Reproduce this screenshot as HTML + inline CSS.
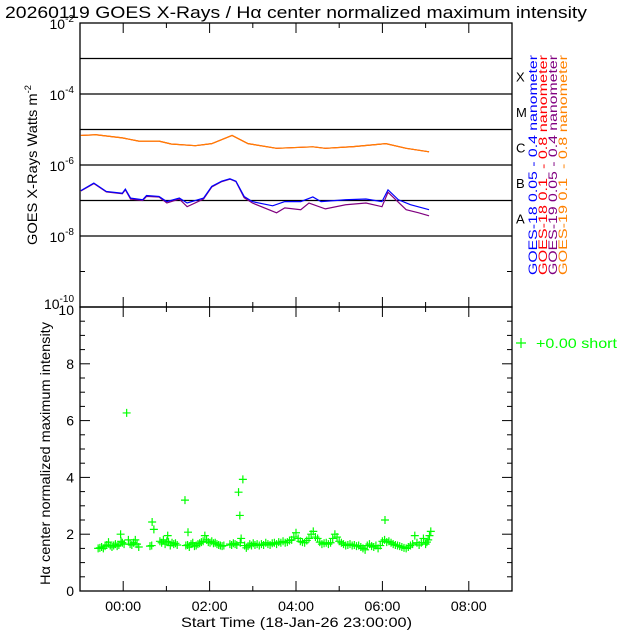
<!DOCTYPE html>
<html><head><meta charset="utf-8"><style>
html,body{margin:0;padding:0;background:#fff;}
svg{display:block;font-family:"Liberation Sans",sans-serif;}
</style></head><body>
<svg id="chart" width="640" height="640" viewBox="0 0 640 640" xmlns="http://www.w3.org/2000/svg">
<rect width="640" height="640" fill="#fff"/>
<text x="5" y="18" font-size="17" fill="#000" textLength="582" lengthAdjust="spacingAndGlyphs">20260119 GOES X-Rays / Hα center normalized maximum intensity</text>
<g id="topPanel"></g><g id="botPanel"></g>
</svg>
<script>
// ---- data ----
const xTickLabels = ["00:00","02:00","04:00","06:00","08:00"];
const xTickHours = [0,2,4,6,8];
const orangeTimes = [-0.98,-0.63,-0.02,0.36,0.83,1.11,1.67,2.05,2.52,2.89,3.55,4.39,4.68,5.33,6.08,6.55,7.08];
const orangeVals = [6.8e-6,7.1e-6,5.8e-6,4.7e-6,4.7e-6,3.9e-6,3.5e-6,4.0e-6,6.8e-6,4.0e-6,2.95e-6,3.25e-6,2.95e-6,3.3e-6,4.0e-6,2.95e-6,2.35e-6];
const blueTimes = [-0.98,-0.68,-0.39,-0.02,0.05,0.17,0.45,0.54,0.83,1.01,1.30,1.48,1.86,2.05,2.28,2.47,2.61,2.80,2.99,3.46,3.74,4.11,4.39,4.58,5.15,5.62,5.99,6.13,6.37,6.65,7.08];
const blueVals = [1.9e-7,3.1e-7,1.8e-7,1.6e-7,2.1e-7,1.17e-7,1.05e-7,1.38e-7,1.3e-7,9.3e-8,1.17e-7,8.5e-8,1.17e-7,2.5e-7,3.5e-7,4.1e-7,3.5e-7,1.3e-7,9.3e-8,7.1e-8,9.3e-8,9.3e-8,1.26e-7,9.3e-8,1.05e-7,1.1e-7,9.3e-8,2.0e-7,1.05e-7,7.6e-8,5.5e-8];
const purpleTimes = [-0.98,-0.68,-0.39,-0.02,0.05,0.17,0.45,0.54,0.83,1.01,1.30,1.48,1.86,2.05,2.28,2.47,2.61,2.80,2.99,3.55,3.74,4.11,4.30,4.68,5.15,5.62,5.99,6.13,6.55,6.84,7.08];
const purpleVals = [1.85e-7,3.0e-7,1.75e-7,1.55e-7,2.0e-7,1.1e-7,1.0e-7,1.3e-7,1.25e-7,8.5e-8,1.1e-7,6.7e-8,1.1e-7,2.4e-7,3.4e-7,4.0e-7,3.4e-7,1.2e-7,8.5e-8,4.5e-8,6.2e-8,5.5e-8,8.5e-8,5.8e-8,7.6e-8,8.5e-8,6.7e-8,1.7e-7,5.5e-8,4.5e-8,3.7e-8];
const haTimes = [-0.58,-0.54,-0.5,-0.46,-0.42,-0.38,-0.34,-0.3,-0.26,-0.22,-0.18,-0.14,-0.1,-0.06,-0.05,-0.02,0.02,0.08,0.12,0.16,0.2,0.24,0.28,0.32,0.36,0.62,0.66,0.67,0.71,0.85,0.89,0.93,0.97,1.01,1.03,1.05,1.09,1.13,1.17,1.21,1.25,1.43,1.45,1.49,1.5,1.53,1.57,1.61,1.65,1.69,1.73,1.77,1.81,1.85,1.89,1.93,1.97,2.01,2.05,2.09,2.13,2.17,2.21,2.25,2.29,2.33,2.47,2.51,2.55,2.59,2.63,2.67,2.7,2.71,2.73,2.77,2.81,2.85,2.89,2.93,2.97,3.01,3.05,3.1,3.15,3.2,3.25,3.3,3.35,3.4,3.45,3.5,3.55,3.6,3.65,3.7,3.75,3.8,3.85,3.9,3.95,4.0,4.05,4.1,4.15,4.2,4.25,4.3,4.35,4.4,4.45,4.5,4.55,4.6,4.65,4.7,4.75,4.8,4.85,4.9,4.95,5.0,5.05,5.1,5.15,5.2,5.25,5.3,5.35,5.4,5.45,5.5,5.55,5.6,5.65,5.7,5.75,5.8,5.85,5.9,5.95,6.0,6.05,6.06,6.1,6.15,6.2,6.25,6.3,6.35,6.4,6.45,6.5,6.55,6.6,6.65,6.7,6.75,6.8,6.85,6.9,6.95,7.0,7.03,7.06,7.09,7.12];
const haVals = [1.5,1.52,1.55,1.5,1.58,1.62,1.72,1.6,1.55,1.6,1.65,1.58,1.62,2.0,1.75,1.7,1.65,6.27,1.8,1.65,1.62,1.7,1.8,1.65,1.55,1.58,1.6,2.43,2.17,1.75,1.7,1.8,1.65,1.75,1.95,1.72,1.6,1.7,1.65,1.68,1.62,3.2,1.6,1.62,2.07,1.55,1.65,1.7,1.58,1.6,1.65,1.68,1.72,1.75,1.95,1.8,1.72,1.7,1.75,1.68,1.7,1.65,1.62,1.6,1.58,1.6,1.65,1.62,1.68,1.65,1.62,3.48,2.66,1.7,1.85,3.93,1.6,1.52,1.58,1.65,1.6,1.68,1.62,1.65,1.6,1.65,1.62,1.7,1.65,1.62,1.68,1.7,1.65,1.72,1.7,1.75,1.7,1.72,1.78,1.8,1.9,2.05,1.85,1.75,1.72,1.7,1.78,1.85,2.0,2.1,1.9,1.85,1.72,1.65,1.68,1.7,1.65,1.7,1.85,2.0,1.9,1.75,1.7,1.65,1.6,1.62,1.65,1.6,1.62,1.58,1.6,1.55,1.5,1.45,1.6,1.65,1.58,1.55,1.6,1.5,1.6,1.75,1.8,2.5,1.72,1.75,1.7,1.65,1.62,1.6,1.58,1.55,1.52,1.5,1.55,1.6,1.65,1.95,1.7,1.62,1.7,1.85,1.65,1.72,1.8,1.95,2.1,2.25];

// ---- geometry ----
const L=80,R=512,T1=23,B1=307,T2=307,B2=591;
const xS=h=>L+(h+1)/10*(R-L);
const yLog=v=>T1+(-2-Math.log10(v))/8*(B1-T1);
const yLin=v=>B2-v/10*(B2-T2);
const NS="http://www.w3.org/2000/svg";
function mk(parent,tag,attrs,name){const e=document.createElementNS(NS,tag);for(const k in attrs)e.setAttribute(k,attrs[k]);


parent.appendChild(e);return e;}
const topG=document.getElementById('topPanel'),botG=document.getElementById('botPanel');
const stretch=(len)=>({textLength:len,lengthAdjust:'spacingAndGlyphs'});

// top panel frame and grid
mk(topG,'rect',{x:L,y:T1,width:R-L,height:B1-T1,fill:'none',stroke:'#000','stroke-width':1.3},'xray-plot-frame');
for(let e=-3;e>=-8;e--){mk(topG,'line',{x1:L,x2:R,y1:yLog(Math.pow(10,e)),y2:yLog(Math.pow(10,e)),stroke:'#000','stroke-width':1.3},'flare-class-line');}
for(let e=-3;e>=-9;e--){const y=yLog(Math.pow(10,e));
mk(topG,'line',{x1:L,x2:L+5,y1:y,y2:y,stroke:'#000'},'y-tick');mk(topG,'line',{x1:R-5,x2:R,y1:y,y2:y,stroke:'#000'},'y-tick');}
for(const e of [-2,-4,-6,-8,-10]){const y=yLog(Math.pow(10,e))-(e==-10?4:0);
const t=mk(topG,'text',{x:L-6,y:y+6,'font-size':14,'text-anchor':'end'},'y-tick-label');
t.innerHTML='10<tspan dy="-7" font-size="10">'+e+'</tspan>';}
for(let h=0;h<=8;h++){const x=xS(h),len=h%2==0?10:5;
mk(topG,'line',{x1:x,x2:x,y1:T1,y2:T1+len,stroke:'#000'},'x-tick');mk(topG,'line',{x1:x,x2:x,y1:B1-len,y2:B1,stroke:'#000'},'x-tick');
mk(botG,'line',{x1:x,x2:x,y1:T2,y2:T2+len,stroke:'#000'},'x-tick');mk(botG,'line',{x1:x,x2:x,y1:B2-len,y2:B2,stroke:'#000'},'x-tick');}
const yt=mk(topG,'text',Object.assign({transform:'translate(37,165) rotate(-90)','font-size':14,'text-anchor':'middle'},stretch(160)),'y-axis-title-xray');
yt.innerHTML='GOES X-Rays Watts m<tspan dy="-6" font-size="9">-2</tspan>';
const cls=["X","M","C","B","A"];
cls.forEach((c,i)=>{const t=mk(topG,'text',{x:516,y:yLog(Math.pow(10,-3.5-i))+5,'font-size':13},'flare-class-label');t.textContent=c;});
const leg=[["GOES-18 0.05 - 0.4 nanometer","#0000ff"],["GOES-18 0.1  - 0.8 nanometer","#ff0000"],["GOES-19 0.05 - 0.4 nanometer","#800080"],["GOES-19 0.1  - 0.8 nanometer","#ff8000"]];
leg.forEach((l,i)=>{const t=mk(topG,'text',Object.assign({transform:'translate('+(537+i*10)+',275) rotate(-90)','font-size':12,fill:l[1],style:'white-space:pre'},stretch(220)),'legend-entry');t.textContent=l[0];});
function line(times,vals,color,name){mk(topG,'polyline',{points:times.map((t,i)=>xS(t)+','+yLog(vals[i])).join(' '),fill:'none',stroke:color,'stroke-width':1.2},name);}
line(orangeTimes,orangeVals,'#ff0000','goes18-long-line');
line(orangeTimes,orangeVals,'#ff8000','goes19-long-line');
line(purpleTimes,purpleVals,'#800080','goes19-short-line');
line(blueTimes,blueVals,'#0000ff','goes18-short-line');

// bottom panel
mk(botG,'rect',{x:L,y:T2,width:R-L,height:B2-T2,fill:'none',stroke:'#000','stroke-width':1.3},'halpha-plot-frame');
for(let k=0;k<=20;k++){const v=k/2,y=yLin(v),len=k%4==0?10:5;
mk(botG,'line',{x1:L,x2:L+len,y1:y,y2:y,stroke:'#000'},'y-tick');mk(botG,'line',{x1:R-len,x2:R,y1:y,y2:y,stroke:'#000'},'y-tick');}
[0,2,4,6,8,10].forEach(v=>{const t=mk(botG,'text',{x:L-6,y:yLin(v)+5+(v==10?3:0),'font-size':14,'text-anchor':'end'},'y-tick-label');t.textContent=v;});
xTickHours.forEach((h,i)=>{const t=mk(botG,'text',Object.assign({x:xS(h)-18,y:611,'font-size':14},stretch(36)),'x-tick-label');t.textContent=xTickLabels[i];});
const xt=mk(botG,'text',Object.assign({x:181,y:627,'font-size':14},stretch(231)),'x-axis-title');xt.textContent='Start Time (18-Jan-26 23:00:00)';
const yt2=mk(botG,'text',Object.assign({transform:'translate(50,585) rotate(-90)','font-size':14},stretch(263)),'y-axis-title-halpha');yt2.textContent='Hα center normalized maximum intensity';
const pts=mk(botG,'g',{stroke:'#00ff00','stroke-width':1.2},'halpha-points');
haTimes.forEach((t,i)=>{const x=xS(t),y=yLin(haVals[i]);
mk(pts,'path',{d:'M'+(x-4)+' '+y+'H'+(x+4)+'M'+x+' '+(y-4)+'V'+(y+4)},'halpha-point');});
mk(botG,'path',{d:'M516 343H526M521 338V348',stroke:'#00ff00','stroke-width':1.2},'legend-marker');
const lt=mk(botG,'text',Object.assign({x:536,y:348,'font-size':14,fill:'#00ff00'},stretch(81)),'legend-label');lt.textContent='+0.00 short';
</script>
</body></html>
